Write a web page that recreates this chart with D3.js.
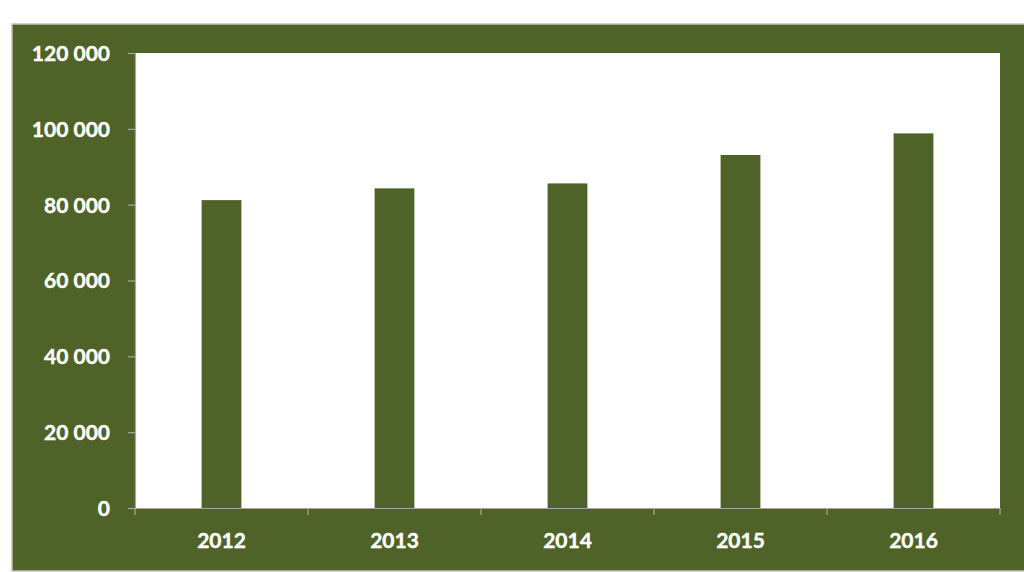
<!DOCTYPE html>
<html>
<head>
<meta charset="utf-8">
<script src="https://cdn.jsdelivr.net/npm/d3@7"></script>
<style>
  html, body { margin: 0; padding: 0; background: #ffffff; }
  svg { display: block; }
  text { font-family: Lato, "Open Sans", sans-serif; font-weight: bold; fill: #ffffff; }
</style>
</head>
<body>
<svg id="chart" width="1024" height="572"></svg>
<script>
const categories = ["2012", "2013", "2014", "2015", "2016"];
const values = [81200, 84300, 85600, 93100, 98800];
const yTicks = [0, 20000, 40000, 60000, 80000, 100000, 120000];

const svg = d3.select("#chart");
const frame = { x: 12, y: 24, w: 1030, h: 547 };
const plot = { left: 135, top: 53, right: 1000, bottom: 508 };
const green = "#4f6228";

svg.append("rect")
  .attr("x", frame.x).attr("y", frame.y)
  .attr("width", frame.w).attr("height", frame.h)
  .attr("fill", green)
  .attr("stroke", "#c0c0c0").attr("stroke-width", 1.5);

svg.append("rect")
  .attr("x", plot.left).attr("y", plot.top)
  .attr("width", plot.right - plot.left).attr("height", plot.bottom - plot.top)
  .attr("fill", "#ffffff");

const x = d3.scaleBand().domain(categories)
  .range([plot.left, plot.right])
  .paddingInner(0.77).paddingOuter(0.385);
const xBand = d3.scaleBand().domain(categories).range([plot.left, plot.right]).padding(0);
const y = d3.scaleLinear().domain([0, 120000]).range([plot.bottom, plot.top]);

svg.append("g").selectAll("rect").data(values).join("rect")
  .attr("x", (d, i) => x(categories[i]))
  .attr("y", d => y(d))
  .attr("width", x.bandwidth())
  .attr("height", d => y(0) - y(d))
  .attr("fill", green);

const fmt = v => d3.format(",")(v).replace(/,/g, " ");

// Y axis
const yAxis = svg.append("g")
  .attr("transform", `translate(${plot.left},0)`)
  .call(d3.axisLeft(y).tickValues(yTicks).tickSize(7).tickPadding(18).tickFormat(fmt));
yAxis.select(".domain").attr("stroke", "#a6a6a6").attr("stroke-width", 1.2);
yAxis.selectAll(".tick line").attr("stroke", "#a6a6a6").attr("stroke-width", 1.2);
yAxis.selectAll(".tick text").style("font-size", "21px").attr("fill", "#ffffff").attr("dy", "0.35em")
  .attr("stroke", "#ffffff").attr("stroke-width", 0.4);

// X axis
const xAxis = svg.append("g")
  .attr("transform", `translate(0,${plot.bottom})`)
  .call(d3.axisBottom(xBand).tickSize(0).tickPadding(25));
xAxis.select(".domain").attr("stroke", "#a6a6a6").attr("stroke-width", 1.2);
xAxis.selectAll(".tick text").style("font-size", "21px").attr("fill", "#ffffff")
  .attr("stroke", "#ffffff").attr("stroke-width", 0.4);

// Category separator ticks at band boundaries
const bounds = categories.map(c => xBand(c)).concat([plot.right]);
svg.append("g").selectAll("line").data(bounds).join("line")
  .attr("x1", d => d).attr("x2", d => d)
  .attr("y1", plot.bottom).attr("y2", plot.bottom + 7)
  .attr("stroke", "#a6a6a6").attr("stroke-width", 1.2);
</script>
</body>
</html>
